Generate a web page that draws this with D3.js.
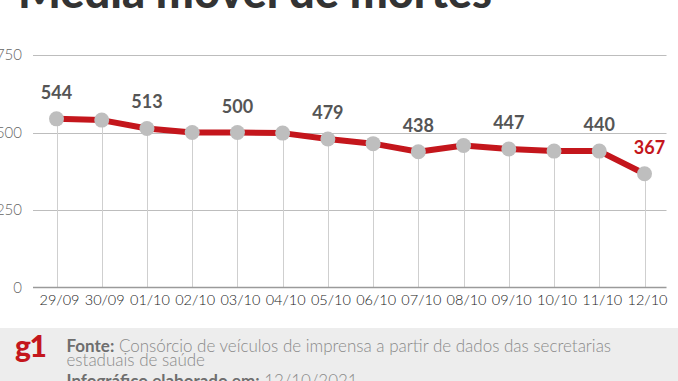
<!DOCTYPE html>
<html>
<head>
<meta charset="utf-8">
<script src="https://cdn.jsdelivr.net/npm/d3@7"></script>
<style>
  html, body { margin: 0; padding: 0; background: #fff; }
  svg { display: block; }
  text { font-family: Lato, "Open Sans", sans-serif; }
</style>
</head>
<body>
<svg id="chart" width="678" height="381"></svg>
<script>
const title = "Média móvel de mortes";
const dates = ["29/09","30/09","01/10","02/10","03/10","04/10","05/10","06/10","07/10","08/10","09/10","10/10","11/10","12/10"];
const values = [544, 540, 513, 500, 500, 498, 479, 464, 438, 458, 447, 440, 440, 367];
const labeled = [true, false, true, false, true, false, true, false, true, false, true, false, true, true];
const yTicks = [0, 250, 500, 750];
const sourceLabel = "Fonte:";
const sourceText = " Consórcio de veículos de imprensa a partir de dados das secretarias";
const sourceText2 = "estaduais de saúde";
const madeLabel = "Infográfico elaborado em:";
const madeDate = " 12/10/2021";

const svg = d3.select("#chart");
const RED = "#c4161c";

const x = d3.scalePoint().domain(dates).range([56.5, 644.5]);
const y = d3.scaleLinear().domain([0, 750]).range([287.5, 55]);

// Title (cut at top)
const t = svg.append("text").attr("x", 18).attr("y", 7.5)
  .attr("font-weight", 900).attr("font-size", 42).attr("fill", "#333").text(title);
const tw = t.node().getComputedTextLength();
t.attr("font-size", 42 * 474 / tw);

// Gridlines
const grid = svg.append("g");
grid.selectAll("line").data(yTicks.filter(d => d > 0)).join("line")
  .attr("x1", 33).attr("x2", 666.5)
  .attr("y1", d => Math.round(y(d)) + 0.5).attr("y2", d => Math.round(y(d)) + 0.5)
  .attr("stroke", "#bdbdbd").attr("stroke-width", 1);

// y tick labels
svg.append("g").selectAll("text").data(yTicks).join("text")
  .attr("x", 22).attr("y", d => y(d)).attr("dy", "0.36em")
  .attr("text-anchor", "end").attr("font-size", 15).attr("font-weight", 300)
  .attr("fill", "#666").text(d => d);

// drop lines
const data = dates.map((d, i) => ({ date: d, value: values[i], labeled: labeled[i], i }));
svg.append("g").selectAll("line").data(data).join("line")
  .attr("x1", d => Math.round(x(d.date)) + 0.5).attr("x2", d => Math.round(x(d.date)) + 0.5)
  .attr("y1", d => y(d.value)).attr("y2", y(0))
  .attr("stroke", "#cfcfcf").attr("stroke-width", 1);

// baseline
svg.append("line").attr("x1", 33).attr("x2", 666.5)
  .attr("y1", y(0)).attr("y2", y(0))
  .attr("stroke", "#9a9a9a").attr("stroke-width", 1.5);

// x labels
svg.append("g").selectAll("text").data(dates).join("text")
  .attr("x", d => x(d) + 3).attr("y", 305)
  .attr("text-anchor", "middle").attr("font-size", 14.5).attr("font-weight", 300)
  .attr("fill", "#222").text(d => d);

// red line
const line = d3.line().x(d => x(d.date)).y(d => y(d.value));
svg.append("path").datum(data).attr("d", line)
  .attr("fill", "none").attr("stroke", RED).attr("stroke-width", 6)
  .attr("stroke-linejoin", "round");

// points
svg.append("g").selectAll("circle").data(data).join("circle")
  .attr("cx", d => x(d.date)).attr("cy", d => y(d.value)).attr("r", 7.5)
  .attr("fill", "#bebebe");

// value labels
svg.append("g").selectAll("text").data(data.filter(d => d.labeled)).join("text")
  .attr("x", d => x(d.date) + (d.i === dates.length - 1 ? 5 : 0))
  .attr("y", d => y(d.value) - 20)
  .attr("text-anchor", "middle").attr("font-size", 18).attr("font-weight", 700)
  .attr("fill", d => d.i === dates.length - 1 ? RED : "#555").text(d => d.value);

// footer
svg.append("rect").attr("x", 0).attr("y", 328).attr("width", 678).attr("height", 53)
  .attr("fill", "#ededed");
svg.append("text").attr("x", 15).attr("y", 357).attr("font-size", 30).attr("font-weight", 900)
  .attr("fill", RED).attr("letter-spacing", -1.5).text("g1");

const f1 = svg.append("text").attr("x", 66.5).attr("y", 352).attr("font-size", 16).attr("fill", "#8a8a8a");
f1.append("tspan").attr("font-weight", 700).attr("fill", "#6e6e6e").text(sourceLabel);
f1.append("tspan").attr("font-weight", 300).text(sourceText);
const fw = f1.node().getComputedTextLength();
const fs = 16 * 545 / fw;
f1.attr("font-size", fs);

svg.append("text").attr("x", 66.5).attr("y", 366).attr("font-size", fs)
  .attr("font-weight", 300).attr("fill", "#8a8a8a").text(sourceText2);

const f3 = svg.append("text").attr("x", 66.5).attr("y", 387).attr("font-size", fs).attr("fill", "#8a8a8a");
f3.append("tspan").attr("font-weight", 700).attr("fill", "#6e6e6e").text(madeLabel);
f3.append("tspan").attr("font-weight", 300).text(madeDate);
</script>
</body>
</html>
